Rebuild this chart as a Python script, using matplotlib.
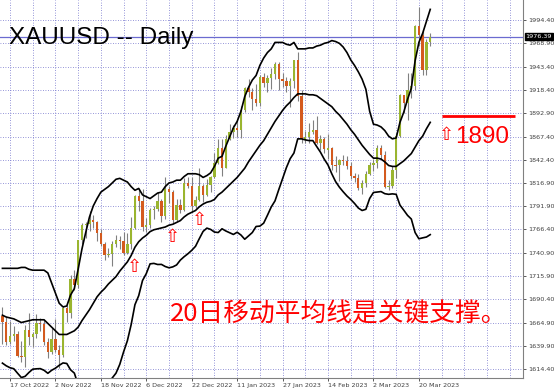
import numpy as np
import matplotlib
matplotlib.use('Agg')
from matplotlib import pyplot as plt

TITLE = 'XAUUSD -- Daily'
NOTE = '20日移动平均线是关键支撑。'
LAST_PRICE = 1976.39
LEVEL = 1890

date_ticks = [0, 12, 24, 36, 48, 60, 72, 84, 96, 108]
date_labels = ['17 Oct 2022', '2 Nov 2022', '18 Nov 2022', '6 Dec 2022', '22 Dec 2022',
               '11 Jan 2023', '27 Jan 2023', '14 Feb 2023', '2 Mar 2023', '20 Mar 2023']
price_ticks = [1614.40, 1639.90, 1664.90, 1690.40, 1715.90, 1740.90, 1766.40, 1791.90,
               1816.90, 1842.40, 1867.40, 1892.90, 1918.40, 1943.40, 1968.90, 1994.40]

# bar index 0 = 17 Oct 2022, daily bars to 23 Mar 2023
bars = list(range(-2, 112))
opens = [1672, 1666, 1644, 1650, 1652, 1629, 1627, 1657, 1649, 1652, 1665, 1663, 1644, 1633, 1647, 1635,
         1630, 1681, 1675, 1712, 1706, 1755, 1771, 1772, 1777, 1774, 1762, 1751, 1738, 1740, 1750, 1755,
         1754, 1741, 1750, 1768, 1803, 1797, 1769, 1771, 1787, 1789, 1797, 1781, 1810, 1807, 1777, 1793,
         1788, 1817, 1814, 1792, 1798, 1814, 1804, 1815, 1824, 1839, 1855, 1833, 1865, 1872, 1877, 1875,
         1896, 1920, 1916, 1908, 1904, 1932, 1926, 1931, 1936, 1946, 1930, 1928, 1923, 1928, 1951, 1912,
         1865, 1867, 1873, 1875, 1861, 1865, 1853, 1855, 1837, 1836, 1842, 1841, 1835, 1825, 1822, 1811,
         1817, 1827, 1836, 1839, 1855, 1847, 1813, 1814, 1831, 1868, 1913, 1904, 1918, 1923, 1988, 1978,
         1940, 1970]
highs = [1682, 1671, 1667, 1661, 1656, 1645, 1662, 1675, 1655, 1674, 1670, 1668, 1648, 1659, 1669, 1640,
         1683, 1684, 1717, 1722, 1755, 1773, 1775, 1786, 1782, 1776, 1767, 1753, 1746, 1754, 1760, 1759,
         1764, 1763, 1780, 1804, 1810, 1810, 1779, 1790, 1792, 1807, 1799, 1824, 1814, 1809, 1799, 1800,
         1822, 1824, 1823, 1803, 1833, 1816, 1821, 1825, 1850, 1865, 1865, 1869, 1881, 1880, 1886, 1901,
         1922, 1930, 1920, 1925, 1935, 1937, 1935, 1942, 1949, 1949, 1937, 1932, 1931, 1951, 1960, 1918,
         1874, 1882, 1885, 1890, 1869, 1867, 1870, 1856, 1846, 1843, 1847, 1846, 1840, 1828, 1827, 1820,
         1830, 1840, 1843, 1858, 1858, 1852, 1820, 1835, 1871, 1914, 1913, 1937, 1937, 1989, 2009, 1983,
         1974, 1980]
lows = [1642, 1640, 1642, 1645, 1628, 1622, 1617, 1640, 1638, 1648, 1656, 1640, 1626, 1631, 1633, 1616,
        1627, 1666, 1670, 1700, 1703, 1750, 1757, 1765, 1768, 1754, 1748, 1733, 1736, 1727, 1747, 1745,
        1739, 1740, 1745, 1767, 1786, 1765, 1764, 1768, 1778, 1786, 1775, 1778, 1795, 1773, 1776, 1784,
        1786, 1811, 1785, 1790, 1797, 1796, 1803, 1807, 1822, 1838, 1825, 1833, 1864, 1866, 1867, 1866,
        1894, 1911, 1896, 1901, 1901, 1922, 1916, 1919, 1930, 1918, 1921, 1916, 1900, 1920, 1906, 1861,
        1860, 1860, 1870, 1859, 1853, 1850, 1843, 1831, 1829, 1819, 1837, 1832, 1821, 1818, 1809, 1805,
        1813, 1826, 1830, 1833, 1843, 1811, 1809, 1812, 1822, 1867, 1893, 1886, 1910, 1918, 1966, 1934,
        1934, 1966]
closes = [1666, 1644, 1650, 1652, 1629, 1627, 1657, 1649, 1652, 1665, 1663, 1644, 1633, 1647, 1635, 1630,
          1681, 1675, 1712, 1706, 1755, 1771, 1772, 1777, 1774, 1762, 1751, 1738, 1740, 1750, 1755, 1754,
          1741, 1750, 1768, 1803, 1797, 1769, 1771, 1787, 1789, 1797, 1781, 1810, 1807, 1777, 1793, 1788,
          1817, 1814, 1792, 1798, 1814, 1804, 1815, 1824, 1839, 1855, 1833, 1865, 1872, 1877, 1875, 1896,
          1920, 1916, 1908, 1904, 1932, 1926, 1931, 1936, 1946, 1930, 1928, 1923, 1928, 1951, 1912, 1865,
          1867, 1873, 1875, 1861, 1865, 1854, 1855, 1836, 1835, 1842, 1841, 1835, 1825, 1822, 1811, 1817,
          1827, 1836, 1839, 1855, 1847, 1813, 1814, 1831, 1868, 1913, 1904, 1918, 1923, 1988, 1978, 1940,
          1970, 1976.39]

# Bollinger bands (20, 2) as drawn on the chart
bb_upper = [1724, 1724, 1724, 1724, 1724, 1725, 1725, 1723, 1722, 1722, 1722, 1722, 1719, 1708, 1697, 1686,
            1682, 1683, 1695, 1702, 1723, 1745, 1763, 1780, 1792, 1800, 1807, 1810, 1813, 1817, 1821, 1822,
            1820, 1818, 1813, 1809, 1811, 1804, 1802, 1800, 1803, 1806, 1807, 1813, 1817, 1818, 1820, 1820,
            1824, 1827, 1827, 1827, 1826, 1823, 1825, 1828, 1835, 1844, 1846, 1857, 1867, 1877, 1884, 1895,
            1911, 1921, 1929, 1934, 1945, 1953, 1959, 1963, 1970, 1970, 1970, 1968, 1967, 1970, 1963, 1963,
            1963, 1964, 1964, 1966, 1967, 1969, 1970, 1972, 1971, 1969, 1965, 1959, 1951, 1945, 1938, 1930,
            1919, 1895, 1881, 1880, 1878, 1874, 1868, 1865, 1866, 1883, 1894, 1908, 1920, 1950, 1970, 1980,
            1993, 2006]
bb_mid = [1673, 1671, 1670, 1669, 1667, 1665, 1666, 1667, 1668, 1668, 1668, 1668, 1664, 1660, 1656, 1652,
          1652, 1652, 1654, 1656, 1660, 1667, 1673, 1679, 1686, 1693, 1698, 1702, 1707, 1711, 1715, 1721,
          1726, 1731, 1738, 1747, 1753, 1757, 1760, 1764, 1766, 1767, 1768, 1769, 1771, 1772, 1774, 1776,
          1780, 1783, 1785, 1787, 1791, 1794, 1796, 1797, 1799, 1804, 1807, 1811, 1815, 1819, 1823, 1828,
          1833, 1840, 1846, 1852, 1858, 1863, 1870, 1877, 1884, 1890, 1896, 1901, 1905, 1910, 1914, 1914,
          1914, 1913, 1913, 1912, 1909, 1906, 1903, 1900, 1895, 1891, 1886, 1881, 1875, 1870, 1864, 1858,
          1853, 1848, 1844, 1844, 1843, 1840, 1836, 1835, 1835, 1838, 1841, 1845, 1849, 1856, 1863, 1868,
          1876, 1883]
bb_lower = [1620.8, 1617.9, 1615.8, 1614.7, 1609.8, 1605.1, 1606.4, 1610.6, 1614.2, 1614.6, 1614.8, 1613.0,
            1609.7, 1613.0, 1615.3, 1618.4, 1621.0, 1620.4, 1613.5, 1609.9, 1597.2, 1587.8, 1582.1, 1578.2,
            1580.1, 1585.7, 1588.9, 1594.4, 1600.2, 1604.6, 1609.9, 1619.5, 1633.0, 1645.1, 1662.7, 1684.4,
            1694.3, 1710.7, 1718.3, 1728.9, 1729.4, 1728.2, 1728.3, 1726.0, 1724.6, 1725.6, 1727.7, 1733.0,
            1736.7, 1739.9, 1743.6, 1748.0, 1756.3, 1764.2, 1767.8, 1766.4, 1763.5, 1763.0, 1767.1, 1764.7,
            1762.8, 1760.9, 1763.3, 1760.3, 1755.7, 1759.3, 1763.0, 1769.6, 1770.0, 1773.2, 1781.8, 1790.8,
            1797.5, 1809.8, 1821.7, 1833.6, 1843.4, 1849.6, 1865.0, 1865.0, 1863.9, 1863.1, 1863.1, 1856.7,
            1850.5, 1842.9, 1836.5, 1826.9, 1818.5, 1812.4, 1807.4, 1802.8, 1799.0, 1794.7, 1789.7, 1787.0,
            1788.3, 1800.1, 1806.6, 1807.1, 1807.6, 1805.3, 1804.6, 1805.1, 1804.6, 1792.9, 1787.4, 1781.7,
            1777.7, 1763.0, 1756.2, 1757.2, 1758.1, 1760.7]

arrow_bars = [33, 43, 50]
arrow_prices = [1725, 1758, 1777]

BULL = '#9AB52F'
BEAR = '#D45A1E'
WICK = '#808080'
GRID = '#7272CC'

W, H = 554, 389
fig = plt.figure(figsize=(W / 100, H / 100), dpi=100)
ax = fig.add_axes([0, (H - 378) / H, 523 / W, 378 / H])
ax.set_xlim(-2.64, 135.5)
ax.set_ylim(1604.6, 2016.2)

for k in range(-6, 136, 6):
    ax.axvline(k, color=GRID, lw=0.6, ls=(0, (1, 2)), zorder=0)
for p in price_ticks:
    ax.axhline(p, color=GRID, lw=0.6, ls=(0, (1, 2)), zorder=0)

o = np.array(opens, float)
c = np.array(closes, float)
up = c >= o
ax.vlines(bars, lows, highs, color=WICK, lw=0.8, zorder=2)
body = np.maximum(np.abs(c - o), 0.8)
ax.bar(bars, body, bottom=np.minimum(o, c), width=0.62,
       color=[BULL if u else BEAR for u in up], linewidth=0, zorder=3)

for band in [bb_upper, bb_mid, bb_lower]:
    ax.plot(bars, band, color='black', lw=1.2, zorder=4)

ax.axhline(LAST_PRICE, color='#6B6BD0', lw=0.9, zorder=1)
ax.hlines(LEVEL, 114.1, 133.3, color='red', lw=2, zorder=5)

for b, p in zip(arrow_bars, arrow_prices):
    ax.text(b, p, '\u21e7', color='red', fontsize=13, ha='center', va='center',
            family='DejaVu Sans', zorder=6)

ax.text(9 / 523, 1 - 44 / 378, TITLE, transform=ax.transAxes, fontsize=17.5,
        family='Liberation Sans', va='baseline', ha='left', zorder=7)
ax.text(115.2, LEVEL - 21, '\u21e7', color='red', fontsize=13, family='DejaVu Sans',
        ha='center', va='center', zorder=7)
ax.text(117.7, LEVEL - 29, str(LEVEL), color='red', fontsize=17.5, family='Liberation Sans',
        ha='left', va='baseline', zorder=7)
ax.text(42.3, 1666, NOTE, color='red', fontsize=18.5,
        family=['Noto Sans CJK SC', 'DejaVu Sans'], ha='left', va='baseline', zorder=7)

ax.yaxis.tick_right()
ax.set_yticks(price_ticks)
ax.set_yticklabels(['%.2f' % p for p in price_ticks], fontsize=4.6, family='DejaVu Sans')
ax.set_xticks(date_ticks)
ax.set_xticklabels(date_labels, fontsize=4.6, family='DejaVu Sans', ha='left')
ax.tick_params(length=2, width=0.6, colors='#404040', pad=1.5)
for side in ['top', 'left']:
    ax.spines[side].set_visible(False)
for side in ['right', 'bottom']:
    ax.spines[side].set_color('#808080')

ax.text(1.005, (LAST_PRICE - 1604.6) / (2016.2 - 1604.6), '%.2f' % LAST_PRICE, transform=ax.transAxes,
        fontsize=4.6, color='white', va='center', ha='left', family='DejaVu Sans',
        bbox=dict(boxstyle='square,pad=0.15', fc='black', ec='black'), clip_on=False)

fig.savefig('out.png', dpi=100)
